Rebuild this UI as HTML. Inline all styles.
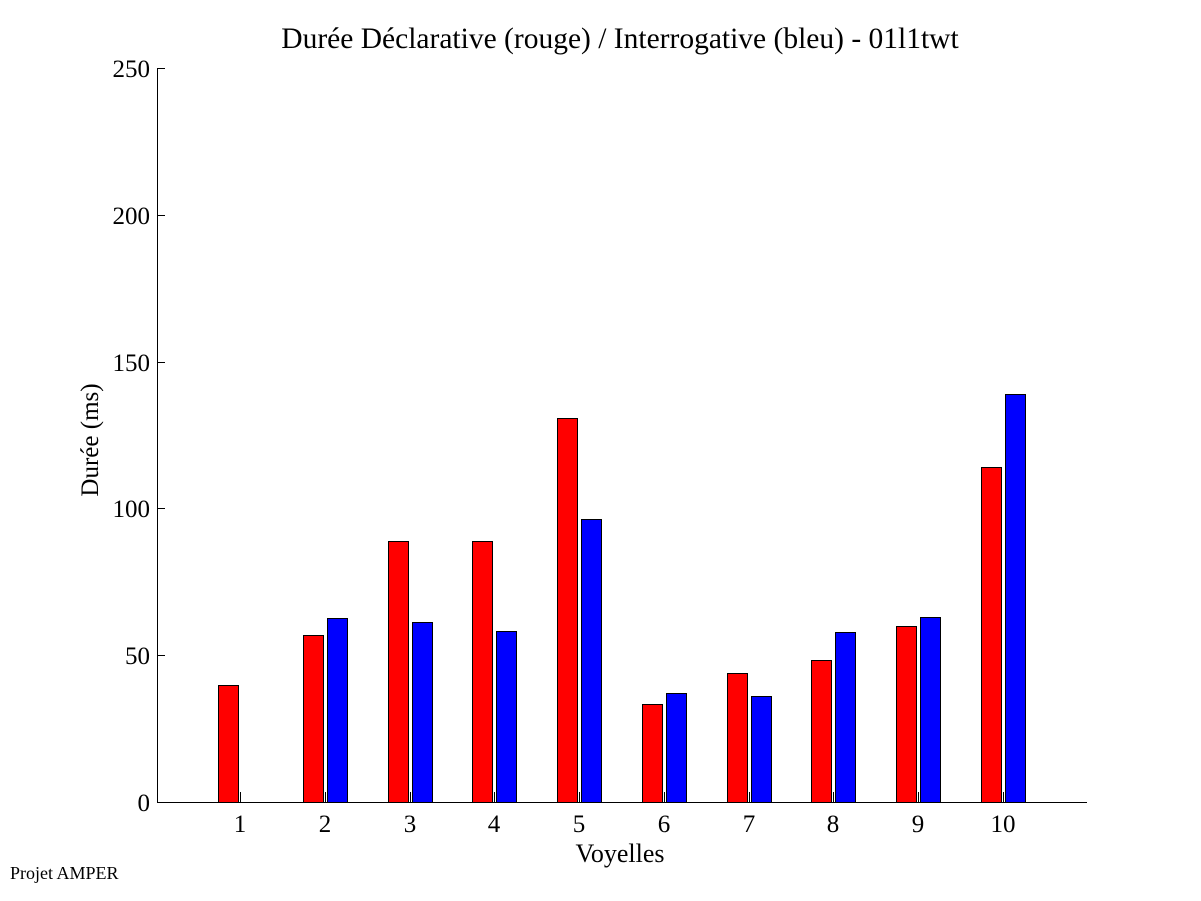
<!DOCTYPE html>
<html><head><style>body{margin:0;background:#fff}svg{display:block}</style></head><body>
<svg width="1201" height="901" xmlns="http://www.w3.org/2000/svg" font-family="Liberation Serif, serif">
<rect width="1201" height="901" fill="#fff"/>
<g stroke="#000" stroke-width="1">
<line x1="157.5" y1="68" x2="157.5" y2="802"/>
<line x1="157" y1="802.5" x2="1087" y2="802.5"/>
<line x1="157" y1="68.5" x2="165" y2="68.5"/>
<line x1="157" y1="215.5" x2="165" y2="215.5"/>
<line x1="157" y1="362.5" x2="165" y2="362.5"/>
<line x1="157" y1="508.5" x2="165" y2="508.5"/>
<line x1="157" y1="655.5" x2="165" y2="655.5"/>
</g>
<g font-size="25" text-anchor="end">
<text x="150" y="77">250</text><text x="150" y="224">200</text><text x="150" y="371">150</text><text x="150" y="517">100</text><text x="150" y="664">50</text><text x="150" y="811">0</text>
</g>
<g stroke="#000" stroke-width="1">
<rect x="218.5" y="685.5" width="20" height="117" fill="#f00"/>
<rect x="303.5" y="635.5" width="20" height="167" fill="#f00"/><rect x="327.5" y="618.5" width="20" height="184" fill="#00f"/>
<rect x="388.5" y="541.5" width="20" height="261" fill="#f00"/><rect x="412.5" y="622.5" width="20" height="180" fill="#00f"/>
<rect x="472.5" y="541.5" width="20" height="261" fill="#f00"/><rect x="496.5" y="631.5" width="20" height="171" fill="#00f"/>
<rect x="557.5" y="418.5" width="20" height="384" fill="#f00"/><rect x="581.5" y="519.5" width="20" height="283" fill="#00f"/>
<rect x="642.5" y="704.5" width="20" height="98" fill="#f00"/><rect x="666.5" y="693.5" width="20" height="109" fill="#00f"/>
<rect x="727.5" y="673.5" width="20" height="129" fill="#f00"/><rect x="751.5" y="696.5" width="20" height="106" fill="#00f"/>
<rect x="811.5" y="660.5" width="20" height="142" fill="#f00"/><rect x="835.5" y="632.5" width="20" height="170" fill="#00f"/>
<rect x="896.5" y="626.5" width="20" height="176" fill="#f00"/><rect x="920.5" y="617.5" width="20" height="185" fill="#00f"/>
<rect x="981.5" y="467.5" width="20" height="335" fill="#f00"/><rect x="1005.5" y="394.5" width="20" height="408" fill="#00f"/>
</g>
<g stroke="#000">
<line x1="240.5" y1="792" x2="240.5" y2="802"/><line x1="325.5" y1="792" x2="325.5" y2="802"/><line x1="410.5" y1="792" x2="410.5" y2="802"/><line x1="494.5" y1="792" x2="494.5" y2="802"/><line x1="579.5" y1="792" x2="579.5" y2="802"/><line x1="664.5" y1="792" x2="664.5" y2="802"/><line x1="749.5" y1="792" x2="749.5" y2="802"/><line x1="833.5" y1="792" x2="833.5" y2="802"/><line x1="918.5" y1="792" x2="918.5" y2="802"/><line x1="1003.5" y1="792" x2="1003.5" y2="802"/>
</g>
<g font-size="25" text-anchor="middle">
<text x="240" y="832">1</text><text x="325" y="832">2</text><text x="410" y="832">3</text><text x="494" y="832">4</text><text x="579" y="832">5</text><text x="664" y="832">6</text><text x="749" y="832">7</text><text x="833" y="832">8</text><text x="918" y="832">9</text><text x="1003" y="832">10</text>
<text x="620" y="862" font-size="26">Voyelles</text>
<text x="620" y="48" font-size="29.5">Durée Déclarative (rouge) / Interrogative (bleu) - 01l1twt</text>
<text transform="translate(98,440) rotate(-90)" font-size="25">Durée (ms)</text>
</g>
<text x="10" y="879" font-size="18">Projet AMPER</text>
</svg>
</body></html>
